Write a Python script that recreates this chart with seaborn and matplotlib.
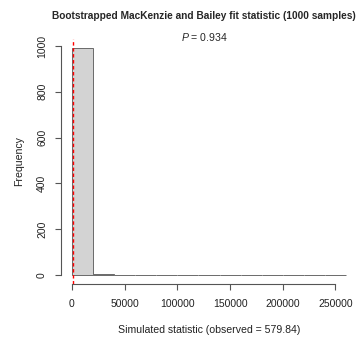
import matplotlib
matplotlib.use("Agg")
import matplotlib.pyplot as plt
import seaborn as sns
import numpy as np

sns.set_style("white")
plt.rcParams['font.family'] = ['Liberation Sans', 'DejaVu Sans']
plt.rcParams['mathtext.fontset'] = 'custom'
plt.rcParams['mathtext.it'] = 'Liberation Sans:italic'
plt.rcParams['mathtext.rm'] = 'Liberation Sans'

bin_edges = [0, 20000, 40000, 60000, 80000, 100000, 120000, 140000, 160000,
             180000, 200000, 220000, 240000, 260000]
counts = [991, 6, 1, 1, 0, 0, 0, 0, 0, 0, 0, 0, 1]
observed = 579.84
p_value = 0.934
x_ticks = [0, 50000, 100000, 150000, 200000, 250000]
y_ticks = [0, 200, 400, 600, 800, 1000]

mids = [(a + b) / 2 for a, b in zip(bin_edges[:-1], bin_edges[1:])]

fig = plt.figure(figsize=(3.61, 3.40), dpi=100)
L, R, B, T = 61, 357, 340 - 284, 340 - 39
ax = fig.add_axes([L/361, B/340, (R - L)/361, (T - B)/340])

sns.histplot(x=mids, weights=counts, bins=bin_edges, ax=ax,
             color="#d3d3d3", edgecolor="#6a6a6a", linewidth=0.7, alpha=1.0)

ax.axvline(observed, color="red", linestyle=(0, (2.5, 1.8)), linewidth=1.0,
           zorder=10)

ax.set_xlim(-10400, 270400)
ax.set_ylim(-39.6, 1030.6)
ax.set_xticks(x_ticks)
ax.set_xticklabels([str(v) for v in x_ticks], fontsize=7.5, color="#222222")
ax.set_yticks(y_ticks)
ax.set_yticklabels([str(v) for v in y_ticks], fontsize=7.5, rotation=90,
                   va="center", color="#222222")

for s in ["top", "right"]:
    ax.spines[s].set_visible(False)
ax.spines["left"].set_bounds(0, 1000)
ax.spines["bottom"].set_bounds(0, 250000)
for s in ["left", "bottom"]:
    ax.spines[s].set_color("#555555")
    ax.spines[s].set_linewidth(0.8)
ax.tick_params(axis="x", direction="out", length=4, width=0.8,
               color="#555555", pad=7, bottom=True)
ax.tick_params(axis="y", direction="out", length=4, width=0.8,
               color="#555555", pad=6, left=True)

ax.set_xlabel("Simulated statistic (observed = 579.84)", fontsize=7.6,
              labelpad=11, color="#222222")
ax.set_ylabel("Frequency", fontsize=7.6, labelpad=9, color="#222222")

cx = 0.5 * (L + R) / 361 - 5/361
fig.text(cx, 1 - 16/340,
         "Bootstrapped MacKenzie and Bailey fit statistic (1000 samples)",
         ha="center", va="center", fontsize=7.3, fontweight="bold")
fig.text(cx, 1 - 37/340,
         r"$\mathit{P}$ = " + f"{p_value:.3f}",
         ha="center", va="center", fontsize=7.6)

fig.savefig("out.png", dpi=100)
